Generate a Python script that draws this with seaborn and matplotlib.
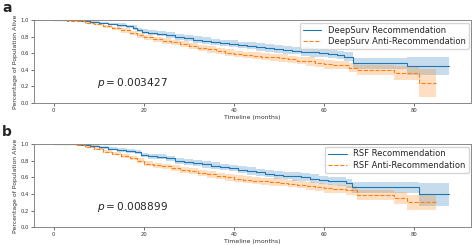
import numpy as np
import pandas as pd
import seaborn as sns
import matplotlib.pyplot as plt

## survival curves (time in months, survival, CI half width) ##

# panel a - DeepSurv
a_rec_t = [0, 6, 8, 10, 12, 14, 16, 17.5, 18.5, 19.5, 21, 23, 25, 27, 29, 31, 33, 35, 37, 39,
           41, 43, 45, 47, 49, 51, 53, 55, 57, 59, 61, 63, 64.5, 66.5, 78.4, 87.8]
a_rec_s = [1.0, 0.99, 0.98, 0.965, 0.955, 0.94, 0.925, 0.91, 0.885, 0.86, 0.845, 0.835, 0.82, 0.80,
           0.78, 0.765, 0.75, 0.735, 0.725, 0.715, 0.70, 0.69, 0.675, 0.665, 0.65, 0.64, 0.63, 0.62,
           0.61, 0.60, 0.59, 0.58, 0.555, 0.478, 0.446, 0.446]
a_rec_ci = [0.0, 0.005, 0.01, 0.015, 0.015, 0.02, 0.02, 0.025, 0.025, 0.03, 0.03, 0.03, 0.035, 0.035,
            0.035, 0.04, 0.04, 0.04, 0.04, 0.04, 0.04, 0.045, 0.045, 0.045, 0.045, 0.045, 0.045, 0.05,
            0.05, 0.05, 0.05, 0.05, 0.055, 0.07, 0.11, 0.11]

a_anti_t = [0, 3, 5, 7, 9, 11, 13, 15, 17, 18.5, 20, 22, 24, 26, 28, 30, 32, 34, 36, 38, 40,
            42, 44, 46, 48, 50, 52, 54, 56, 58, 60, 62, 65.5, 67.3, 75.6, 81.2, 84.9]
a_anti_s = [1.0, 0.995, 0.985, 0.97, 0.95, 0.925, 0.90, 0.875, 0.845, 0.815, 0.79, 0.77, 0.75, 0.73,
            0.71, 0.685, 0.665, 0.645, 0.625, 0.605, 0.59, 0.58, 0.57, 0.56, 0.55, 0.54, 0.525, 0.51,
            0.50, 0.48, 0.465, 0.455, 0.426, 0.40, 0.365, 0.237, 0.237]
a_anti_ci = [0.0, 0.005, 0.01, 0.015, 0.015, 0.02, 0.02, 0.025, 0.025, 0.03, 0.03, 0.03, 0.035, 0.035,
             0.035, 0.035, 0.035, 0.04, 0.04, 0.04, 0.04, 0.04, 0.04, 0.045, 0.045, 0.045, 0.045, 0.045,
             0.05, 0.05, 0.05, 0.05, 0.055, 0.06, 0.085, 0.17, 0.17]

# panel b - RSF
b_rec_t = [0, 6, 8, 10, 12, 14, 16, 18, 19.3, 21, 23, 25, 27, 29, 31, 33, 35, 37, 39, 41, 43,
           45, 47, 49, 51, 53, 55, 57, 59, 61, 63, 65, 66.3, 81.2, 87.8]
b_rec_s = [1.0, 0.99, 0.975, 0.96, 0.945, 0.93, 0.915, 0.90, 0.87, 0.855, 0.845, 0.83, 0.80, 0.785,
           0.77, 0.755, 0.74, 0.725, 0.71, 0.69, 0.675, 0.66, 0.645, 0.63, 0.62, 0.61, 0.60, 0.585,
           0.57, 0.555, 0.55, 0.53, 0.478, 0.394, 0.394]
b_rec_ci = [0.0, 0.005, 0.01, 0.015, 0.015, 0.02, 0.02, 0.025, 0.025, 0.03, 0.03, 0.03, 0.035, 0.035,
            0.035, 0.04, 0.04, 0.04, 0.04, 0.04, 0.045, 0.045, 0.045, 0.045, 0.045, 0.05, 0.05, 0.05,
            0.05, 0.05, 0.055, 0.055, 0.065, 0.14, 0.14]

b_anti_t = [0, 3, 5, 7, 9, 11, 13, 15, 17, 18.5, 20, 22, 24, 26, 28, 30, 32, 34, 36, 38, 40,
            42, 44, 46, 48, 50, 52, 54, 56, 58, 60, 62, 65, 67.3, 75.6, 78.4, 84.9]
b_anti_s = [1.0, 0.995, 0.985, 0.97, 0.945, 0.91, 0.885, 0.86, 0.83, 0.80, 0.765, 0.745, 0.73, 0.71,
            0.69, 0.675, 0.655, 0.635, 0.615, 0.60, 0.585, 0.57, 0.56, 0.55, 0.545, 0.535, 0.525, 0.51,
            0.495, 0.48, 0.465, 0.455, 0.445, 0.385, 0.353, 0.30, 0.30]
b_anti_ci = [0.0, 0.005, 0.01, 0.015, 0.015, 0.02, 0.02, 0.025, 0.025, 0.03, 0.03, 0.03, 0.035, 0.035,
             0.035, 0.035, 0.035, 0.04, 0.04, 0.04, 0.04, 0.04, 0.04, 0.045, 0.045, 0.045, 0.045, 0.045,
             0.05, 0.05, 0.05, 0.05, 0.055, 0.06, 0.07, 0.09, 0.09]

panels = [
    ('a', 'DeepSurv', (a_rec_t, a_rec_s, a_rec_ci), (a_anti_t, a_anti_s, a_anti_ci), '$p = 0.003427$'),
    ('b', 'RSF', (b_rec_t, b_rec_s, b_rec_ci), (b_anti_t, b_anti_s, b_anti_ci), '$p = 0.008899$'),
]

sns.set_style('ticks')
plt.rcParams['font.family'] = ['DejaVu Sans']

fig = plt.figure(figsize=(4.72, 2.45), dpi=100)
boxes = [[0.072, 0.580, 0.926, 0.338], [0.072, 0.073, 0.926, 0.339]]
letter_y = [0.995, 0.49]


def draw_curve(ax, data, color, ls, label):
    t, s, ci = (np.array(v, dtype=float) for v in data)
    df = pd.DataFrame({'t': t, 's': s})
    ax.fill_between(t, np.clip(s - ci, 0, 1), np.clip(s + ci, 0, 1), step='post',
                    color=color, alpha=0.25, linewidth=0)
    sns.lineplot(data=df, x='t', y='s', ax=ax, color=color, linestyle=ls, linewidth=0.8,
                 drawstyle='steps-post', estimator=None, label=label)


for (letter, model, rec, anti, ptext), box, ly in zip(panels, boxes, letter_y):
    ax = fig.add_axes(box)
    draw_curve(ax, rec, '#1f77b4', '-', f'{model} Recommendation')
    draw_curve(ax, anti, '#ff7f0e', '--', f'{model} Anti-Recommendation')

    ax.set_xlim(-4.4, 92.7)
    ax.set_ylim(0, 1)
    ax.set_xticks([0, 20, 40, 60, 80])
    ax.set_yticks([0.0, 0.2, 0.4, 0.6, 0.8, 1.0])
    ax.tick_params(labelsize=3.8, length=2, width=0.5, pad=1.5, colors='#333333')
    for sp in ax.spines.values():
        sp.set_color('#888888')
        sp.set_linewidth(0.7)
    ax.set_xlabel('Timeline (months)', fontsize=4.4, labelpad=1.5, color='#333333')
    ax.set_ylabel('Percentage of Population Alive', fontsize=4.4, labelpad=2, color='#333333')
    ax.text(9.6, 0.24, ptext, fontsize=7.6, va='center', ha='left')
    ax.legend(loc='upper right', fontsize=6.0, frameon=True, handlelength=2.2,
              borderpad=0.35, labelspacing=0.3, borderaxespad=0.3)
    fig.text(0.004, ly, letter, fontsize=10, fontweight='bold', va='top', ha='left')

fig.savefig('out.png', dpi=100)
